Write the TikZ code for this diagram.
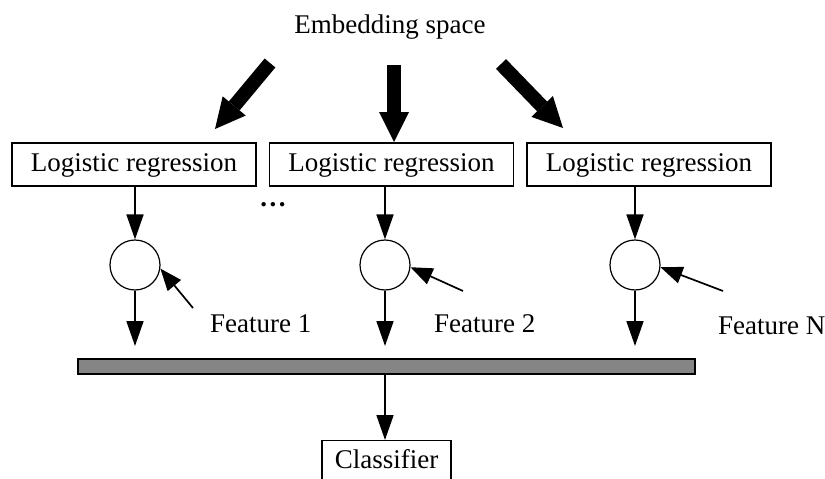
\documentclass[tikz,border=0pt]{standalone}
\usepackage{fontspec}
\setmainfont{Liberation Serif}
\usetikzlibrary{arrows.meta}
\begin{document}
\begin{tikzpicture}[x=1pt,y=-1pt,
  every node/.style={font=\fontsize{27}{32}\selectfont},
  lrbox/.style={draw,line width=1.3pt,minimum width=244pt,minimum height=43pt,inner sep=0pt,text height=19pt,text depth=6pt},
  neuron/.style={draw,circle,line width=1.2pt,minimum size=50pt,inner sep=0pt},
  small/.style={line width=1.7pt,-{Triangle[length=25pt,width=17pt]}},
  feat/.style={line width=1.7pt,-{Triangle[length=22pt,width=17pt]}},
  big/.style={line width=14pt,-{Triangle[length=30pt,width=30pt,line width=0pt]}}]
\useasboundingbox (0,0) rectangle (825,479);
\fill[white] (0,0) rectangle (825,479);
\begin{scope}
\clip (0,0) rectangle (825,479);
% title
\node[anchor=base] (emb) at (390,34) {Embedding space};
% big arrows
\coordinate (t1) at (270,63); \coordinate (h1) at (215,129);
\coordinate (t2) at (394,65); \coordinate (h2) at (394,142);
\coordinate (t3) at (501,64); \coordinate (h3) at (563,128);
\draw[big] (t1) -- (h1);
\draw[big] (t2) -- (h2);
\draw[big] (t3) -- (h3);
% boxes
\node[lrbox] (lr1) at (134,164.5) {Logistic regression};
\node[lrbox] (lr2) at (391.5,164.5) {Logistic regression};
\node[lrbox] (lr3) at (649,164.5) {Logistic regression};
\node[anchor=base] (dots) at (273,206) {\bfseries .\kern2.5pt.\kern2.5pt.};
% neurons
\node[neuron] (n1) at (135,265) {};
\node[neuron] (n2) at (385,265) {};
\node[neuron] (n3) at (635,265) {};
\draw[small] (n1 |- lr1.south) -- (n1.north);
\draw[small] (n2 |- lr2.south) -- (n2.north);
\draw[small] (n3 |- lr3.south) -- (n3.north);
% outputs
\coordinate (o1) at (135,346);
\coordinate (o2) at (385,346);
\coordinate (o3) at (635,346);
\draw[small] (n1.south) -- (o1);
\draw[small] (n2.south) -- (o2);
\draw[small] (n3.south) -- (o3);
% feature labels and arrows
\node[anchor=base west,inner sep=0pt] (f1) at (210,332) {Feature 1};
\node[anchor=base west,inner sep=0pt] (f2) at (434,332) {Feature 2};
\node[anchor=base west,inner sep=0pt] (f3) at (718,334) {Feature N};
\coordinate (s1) at (193,308);
\coordinate (s2) at (463,291);
\coordinate (s3) at (723,291);
\draw[feat] (s1) -- (n1.-8);
\draw[feat] (s2) -- (n2.-5);
\draw[feat] (s3) -- (n3.-5);
% bus
\node[draw,line width=1.5pt,fill=black!48,minimum width=617pt,minimum height=15pt,inner sep=0pt,anchor=north west] (bus) at (77,358) {};
% classifier
\node[draw,line width=1.3pt,minimum width=129pt,anchor=north,inner ysep=9pt,inner xsep=0pt,text height=19pt,text depth=6pt] (cls) at (386.5,440) {Classifier};
\draw[small] (bus.south -| n2) -- (cls.north -| n2);
\end{scope}
\end{tikzpicture}
\end{document}
